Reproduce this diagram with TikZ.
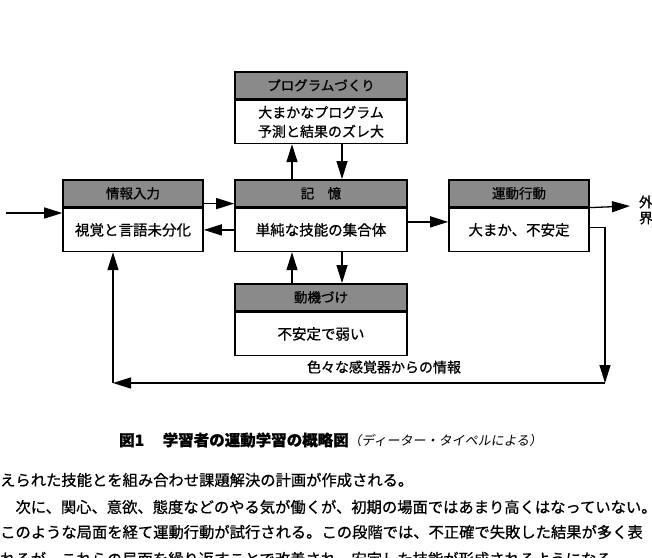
\documentclass[tikz,border=0pt]{standalone}
\usepackage{fontspec}
\setmainfont{Noto Sans CJK JP}
\newfontfamily\jpmed[FakeBold=0.8]{Noto Sans CJK JP}
\newfontfamily\jpslant[FakeSlant=0.15]{Noto Sans CJK JP}
\usepackage{xcolor}
\usepackage{tikz}
\usetikzlibrary{arrows.meta, positioning, calc}
\definecolor{hdrgray}{HTML}{8A8A8A}

\begin{document}
\begin{tikzpicture}[x=1pt, y=-1pt,
    every node/.style={font=\jpmed\fontsize{14.5}{16}\selectfont},
    hdrbox/.style={draw, line width=1.6pt, fill=hdrgray, minimum height=27pt,
                   inner sep=0pt, anchor=north, font=\jpmed\fontsize{13.5}{15}\selectfont},
    bodybox/.style={draw, line width=1.6pt, fill=white, minimum height=43pt,
                    inner sep=0pt, align=center},
    arr/.style={-{Triangle[length=18pt, width=11pt]}, line width=1.3pt},
    para/.style={anchor=west, inner sep=0pt, font=\jpmed\fontsize{15.3}{16}\selectfont},
]
\useasboundingbox (0,0) rectangle (652,557);
\clip (0,0) rectangle (652,557);
\def\WC{172pt}
\def\WS{140pt}

% boxes
\node[hdrbox, minimum width=\WC] (progH) at (321,71) {プログラムづくり};
\node[bodybox, minimum width=\WC, below=0pt of progH,
      font=\jpmed\fontsize{14}{19}\selectfont] (progB)
    {大まかなプログラム\\予測と結果のズレ大};

\node[hdrbox, minimum width=\WC] (memH) at (321,179) {記　憶};
\node[bodybox, minimum width=\WC, below=0pt of memH] (memB) {単純な技能の集合体};

\node[hdrbox, minimum width=\WC] (motiH) at (321,283) {動機づけ};
\node[bodybox, minimum width=\WC, below=0pt of motiH] (motiB) {不安定で弱い};

\node[hdrbox, minimum width=\WS] (infoH) at (133,179) {情報入力};
\node[bodybox, minimum width=\WS, below=0pt of infoH] (infoB) {視覚と言語未分化};

\node[hdrbox, minimum width=\WS] (motH) at (519,179) {運動行動};
\node[bodybox, minimum width=\WS, below=0pt of motH] (motB) {大まか、不安定};

\node[align=center, inner sep=0pt, font=\jpmed\fontsize{14}{16}\selectfont]
    (ext) at (646,210) {外\\界};

% connectors
\coordinate (inL)  at (6,213);
\coordinate (outE) at (630,206);
\coordinate (fbR)  at (605,383);
\coordinate (fbL)  at (113,383);

\draw[arr] (inL) -- (inL -| infoB.west);
\draw[arr] ([yshift=4pt]infoH.south east) -- ([yshift=4pt]memH.south west);
\draw[arr] (memB.west) -- (infoB.east);
\draw[arr] ([yshift=8pt]memB.east) -- ([yshift=8pt]motB.west);
\draw[arr] (motH.south east) -- (outE);

\draw[arr] ([xshift=-29pt]memH.north) -- ([xshift=-29pt]progB.south);
\draw[arr] ([xshift=21pt]progB.south) -- ([xshift=21pt]memH.north);
\draw[arr] ([xshift=-29pt]motiH.north) -- ([xshift=-29pt]memB.south);
\draw[arr] ([xshift=21pt]memB.south) -- ([xshift=21pt]motiH.north);

\draw[arr] ([yshift=2.5pt]motB.east) -| (fbR);
\draw[arr] (fbR) -- (fbL);
\draw[arr] (fbL) -- (fbL |- infoB.south);
\node[font=\jpmed\fontsize{14}{16}\selectfont] (fbLbl) at (384,367) {色々な感覚器からの情報};

% caption and text
\node[anchor=west, inner sep=0pt] (cap) at (119,440)
    {{\fontsize{15.5}{16}\selectfont\bfseries 図1\hspace{1.2em}学習者の運動学習の概略図}%
     {\fontsize{13}{14}\selectfont\jpslant（ディーター・タイペルによる）}};

\node[para] (ln1) at (0,480) {えられた技能とを組み合わせ課題解決の計画が作成される。};
\node[para] (ln2) at (0,507) {　次に、関心、意欲、態度などのやる気が働くが、初期の場面ではあまり高くはなっていない。};
\node[para] (ln3) at (0,532) {このような局面を経て運動行動が試行される。この段階では、不正確で失敗した結果が多く表};
\node[para] (ln4) at (0,559) {れるが、これらの局面を繰り返すことで改善され、安定した技能が形成されるようになる。};
\end{tikzpicture}
\end{document}
